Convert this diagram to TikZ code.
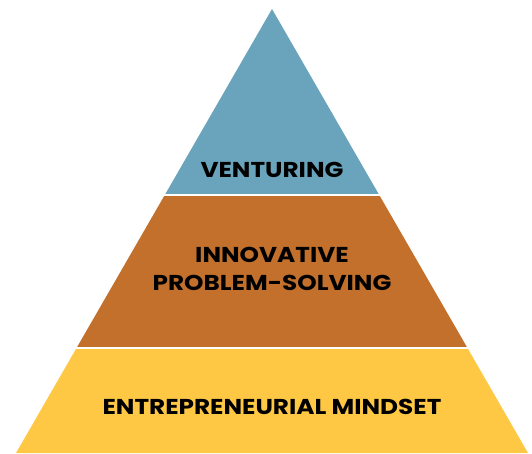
\documentclass[tikz,border=0pt]{standalone}
\usepackage{fontspec}
\setmainfont{Poppins}[FakeStretch=1.15]
\usepackage{tikz}
\usetikzlibrary{calc}
\definecolor{topblue}{HTML}{6AA4BC}
\definecolor{midorange}{HTML}{C2702B}
\definecolor{baseyellow}{HTML}{FEC844}

\begin{document}
\begin{tikzpicture}[
    x=1pt, y=1pt,
    layertext/.style={font=\fontsize{21.5}{28}\selectfont\bfseries, align=center, text=black},
]
    \useasboundingbox (0,0) rectangle (532,453);
    \coordinate (apex) at (272,444);
    \coordinate (bl) at (16,0);
    \coordinate (br) at (528,0);
    \coordinate (ml) at ($(apex)!0.4200!(bl)$);
    \coordinate (mr) at ($(apex)!0.4200!(br)$);
    \coordinate (ll) at ($(apex)!0.7635!(bl)$);
    \coordinate (lr) at ($(apex)!0.7635!(br)$);
    \fill[topblue] (apex) -- (ml) -- (mr) -- cycle;
    \fill[midorange] (ml) -- (ll) -- (lr) -- (mr) -- cycle;
    \fill[baseyellow] (ll) -- (bl) -- (br) -- (lr) -- cycle;
    \foreach \a/\b in {ml/mr,ll/lr}
    {
      \draw[white,line width=2pt] ($(\a)+(-5,0)$) -- ($(\b)+(5,0)$);
    }
    \node[layertext] (venturing) at (272,283) {VENTURING};
    \node[layertext] (solving) at (272,184) {INNOVATIVE\\PROBLEM-SOLVING};
    \node[layertext] (mindset) at (272,46) {ENTREPRENEURIAL MINDSET};
\end{tikzpicture}
\end{document}
